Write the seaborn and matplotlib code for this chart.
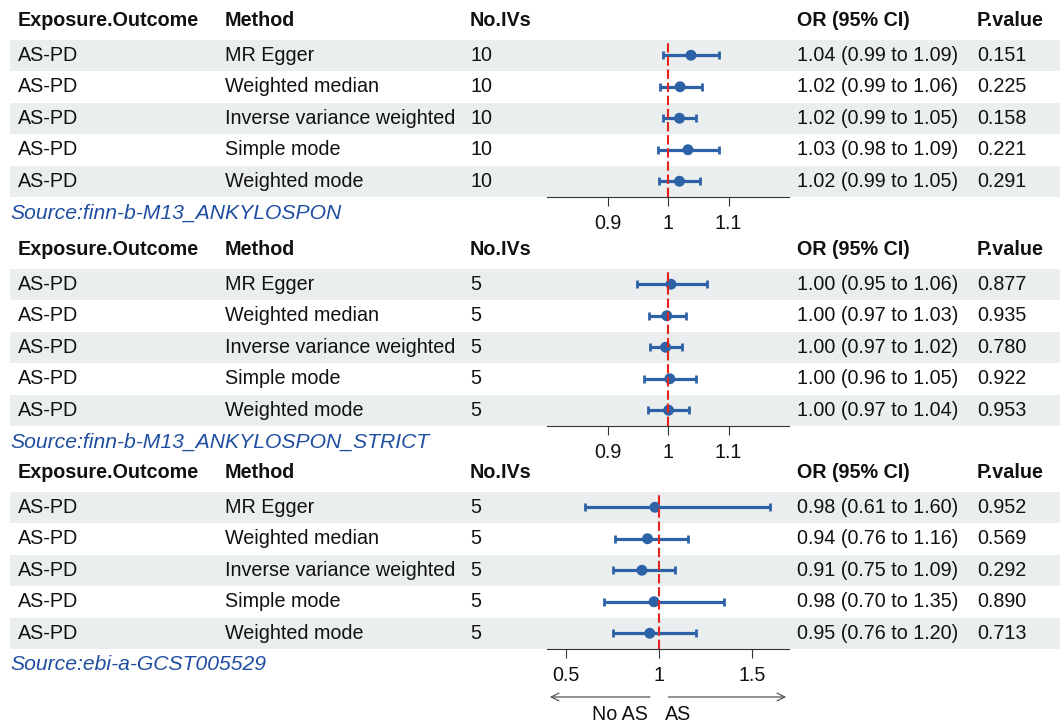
import numpy as np
import pandas as pd
import matplotlib.pyplot as plt
import matplotlib.transforms as mtransforms
import seaborn as sns

# Style: plain white background, Arial-like font
sns.set_theme(style="white")
plt.rcParams['font.family'] = ['Liberation Sans', 'DejaVu Sans']

# ---- data ----
exposure = "AS-PD"
methods = ["MR Egger", "Weighted median", "Inverse variance weighted",
           "Simple mode", "Weighted mode"]
sources = ["Source:finn-b-M13_ANKYLOSPON",
           "Source:finn-b-M13_ANKYLOSPON_STRICT",
           "Source:ebi-a-GCST005529"]
n_ivs = [10, 5, 5]

# plotted estimates / CIs (as drawn)
or_est = [[1.038, 1.020, 1.019, 1.033, 1.019],
          [1.005, 0.998, 0.996, 1.003, 1.001],
          [0.980, 0.940, 0.910, 0.975, 0.952]]
ci_low = [[0.992, 0.987, 0.992, 0.983, 0.985],
          [0.949, 0.968, 0.970, 0.960, 0.967],
          [0.604, 0.765, 0.754, 0.706, 0.754]]
ci_high = [[1.085, 1.057, 1.047, 1.085, 1.053],
           [1.065, 1.029, 1.023, 1.046, 1.034],
           [1.600, 1.160, 1.090, 1.353, 1.200]]

# printed values in the table
or_label = [["1.04 (0.99 to 1.09)", "1.02 (0.99 to 1.06)", "1.02 (0.99 to 1.05)",
             "1.03 (0.98 to 1.09)", "1.02 (0.99 to 1.05)"],
            ["1.00 (0.95 to 1.06)", "1.00 (0.97 to 1.03)", "1.00 (0.97 to 1.02)",
             "1.00 (0.96 to 1.05)", "1.00 (0.97 to 1.04)"],
            ["0.98 (0.61 to 1.60)", "0.94 (0.76 to 1.16)", "0.91 (0.75 to 1.09)",
             "0.98 (0.70 to 1.35)", "0.95 (0.76 to 1.20)"]]
p_label = [["0.151", "0.225", "0.158", "0.221", "0.291"],
           ["0.877", "0.935", "0.780", "0.922", "0.953"],
           ["0.952", "0.569", "0.292", "0.890", "0.713"]]

x_limits = [(0.8, 1.2), (0.8, 1.2), (0.4, 1.7)]
x_ticks = [[0.9, 1, 1.1], [0.9, 1, 1.1], [0.5, 1, 1.5]]
x_ticklabels = [["0.9", "1", "1.1"], ["0.9", "1", "1.1"], ["0.5", "1", "1.5"]]

headers = ["Exposure.Outcome", "Method", "No.IVs", "OR (95% CI)", "P.value"]

# ---- layout (pixel units) ----
W, H = 1060, 725
col_x = [18, 225, 470, 797, 977]
panel_top = [39.5, 268.5, 491.5]
row_h = 31.5
ax_left, ax_width = 547, 242

blue = "#2D63A6"
band = "#EAEEEF"
txt = "#111111"
src_blue = "#1F4EA0"
fs = 14.2
fs_src = 15.2

fig = plt.figure(figsize=(W / 100, H / 100), dpi=100)
bg = fig.add_axes([0, 0, 1, 1], zorder=0)
bg.set_xlim(0, W)
bg.set_ylim(H, 0)
bg.axis('off')

for k in range(3):
    top = panel_top[k]
    df = pd.DataFrame({
        'Method': methods,
        'OR': or_est[k],
        'lo': ci_low[k],
        'hi': ci_high[k],
        'row': np.arange(len(methods)),
    })

    # header row
    for cx, h in zip(col_x, headers):
        bg.text(cx, top - 19, h, fontsize=fs, fontweight='bold', color=txt,
                ha='left', va='center')

    # shaded bands + table text
    for i, r in df.iterrows():
        yc = top + row_h * (i + 0.5)
        if i % 2 == 0:
            bg.axhspan(top + row_h * i, top + row_h * (i + 1),
                       xmin=10 / W, xmax=1, color=band, lw=0)
        cells = [exposure, r['Method'], str(n_ivs[k]), or_label[k][i], p_label[k][i]]
        for cx, c in zip(col_x, cells):
            bg.text(cx, yc, c, fontsize=fs, color=txt, ha='left', va='center')

    bottom = top + row_h * len(methods)
    bg.text(10, bottom + 16, sources[k], fontsize=fs_src, style='italic',
            color=src_blue, ha='left', va='center')

    # forest plot axes
    ax = fig.add_axes([ax_left / W, (H - bottom) / H, ax_width / W,
                       (bottom - top) / H], zorder=2)
    ax.patch.set_alpha(0)
    ax.errorbar(df['OR'], df['row'], xerr=[df['OR'] - df['lo'], df['hi'] - df['OR']],
                fmt='none', ecolor=blue, elinewidth=2.3, capsize=3, capthick=2,
                zorder=3)
    sns.scatterplot(data=df, x='OR', y='row', ax=ax, s=62, color=blue,
                    edgecolor='none', zorder=4, legend=False)
    ax.axvline(1, color='#E5231E', ls=(0, (4.5, 1.8)), lw=1.5, zorder=5)
    ax.set_xlim(*x_limits[k])
    ax.set_ylim(len(methods) - 0.5, -0.5)
    ax.set_xticks(x_ticks[k])
    ax.set_xticklabels(x_ticklabels[k])
    ax.set_yticks([])
    ax.set_xlabel('')
    ax.set_ylabel('')
    for s in ['top', 'left', 'right']:
        ax.spines[s].set_visible(False)
    ax.spines['bottom'].set_color('#333333')
    ax.spines['bottom'].set_linewidth(0.8)
    ax.tick_params(axis='x', bottom=True, direction='out', length=6.5, width=0.8,
                   color='#333333', labelsize=fs, labelcolor=txt, pad=5.5)

    if k == 2:
        # direction arrows under the last panel
        tr = mtransforms.blended_transform_factory(ax.transData, bg.transData)
        arrow = dict(arrowstyle='->', color='#555555', lw=0.9, mutation_scale=14)
        ax.annotate('', xy=(x_limits[k][0], 697), xytext=(0.968, 697),
                    xycoords=tr, textcoords=tr, arrowprops=arrow, annotation_clip=False)
        ax.annotate('', xy=(x_limits[k][1], 697), xytext=(1.037, 697),
                    xycoords=tr, textcoords=tr, arrowprops=arrow, annotation_clip=False)
        bg.text(620, 715, "No AS", fontsize=fs, color=txt, ha='center', va='center')
        bg.text(678, 715, "AS", fontsize=fs, color=txt, ha='center', va='center')

fig.savefig('out.png', dpi=100)
